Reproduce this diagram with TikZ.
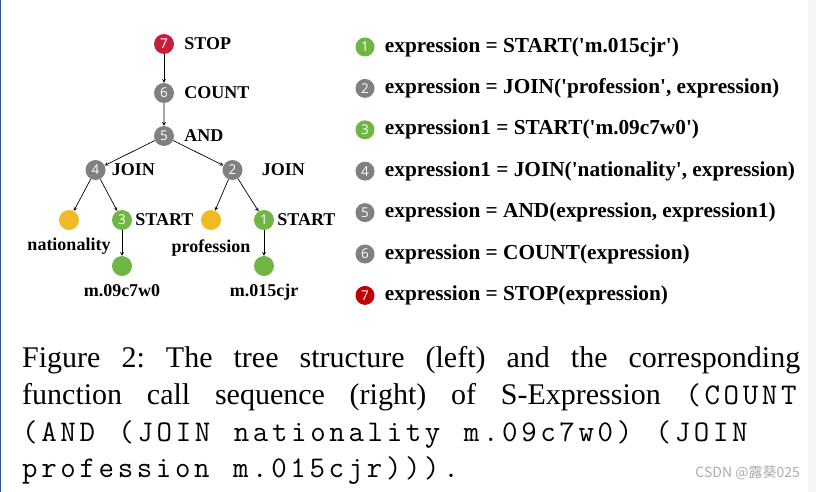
\documentclass[tikz,border=0pt]{standalone}
\usepackage{fontspec}
\setmainfont{Liberation Serif}
\setsansfont{Open Sans}
\setmonofont[Scale=1.0, LetterSpace=12.2, WordSpace=1.23]{Latin Modern Mono}
\newfontfamily\cjkfont{Noto Sans CJK SC}
\usepackage{xcolor}
\usepackage{tikz}
\usetikzlibrary{arrows, positioning}
\definecolor{stopred}{RGB}{196,32,60}
\definecolor{listred}{RGB}{192,0,0}
\definecolor{fungray}{RGB}{128,128,128}
\definecolor{entgreen}{RGB}{112,182,68}
\definecolor{relyellow}{RGB}{240,186,36}
\definecolor{edgeblue}{RGB}{47,84,150}
\newcommand{\tq}{\textquotesingle}
\tikzstyle{num} = [circle, inner sep=0pt, minimum size=20pt, text=white, font=\sffamily\fontsize{13.5}{13.5}\selectfont]
\tikzstyle{dot} = [circle, inner sep=0pt, minimum size=20pt]
\tikzstyle{tlabel} = [font=\bfseries\fontsize{18}{20}\selectfont, inner sep=2pt]
\tikzstyle{expr} = [font=\bfseries\fontsize{21.3}{24}\selectfont, inner sep=0pt]
\tikzstyle{arrow} = [->,>=stealth, line width=0.7pt]

\begin{document}
\begin{tikzpicture}[x=1pt, y=-1pt,
    level 1/.style={level distance=49pt},
    level 2/.style={level distance=43pt},
    level 3/.style={level distance=34pt, sibling distance=137pt},
    level 4/.style={level distance=50pt, sibling distance=53pt},
    level 5/.style={level distance=46pt},
    edge from parent/.style={draw, arrow},
    every label/.style={tlabel}
]
\fill[white] (0,0) rectangle (816,492);
\useasboundingbox (0,0) rectangle (816,492);
\fill[edgeblue] (0,0) rectangle (1.2,492);
\fill[gray!7] (808,0) rectangle (816,492);

% tree (left)
\node[num, fill=stopred, label={[label distance=8pt]right:STOP}] (stop) at (164,44) {7}
    child {node[num, fill=fungray, label={[label distance=8pt]right:COUNT}] (count) {6}
        child {node[num, fill=fungray, label={[label distance=8pt]right:AND}] (and) {5}
            child {node[num, fill=fungray, label={[label distance=4pt]right:JOIN}] (join1) {4}
                child {node[dot, fill=relyellow, label={[label distance=6pt]below:nationality}] (rel1) {}}
                child {node[num, fill=entgreen, label={[label distance=1pt]right:START}] (start1) {3}
                    child {node[dot, fill=entgreen, label={[label distance=6pt]below:m.09c7w0}] (ent1) {}}}
            }
            child {node[num, fill=fungray, label={[label distance=17pt]right:JOIN}] (join2) {2}
                child[xshift=5pt] {node[dot, fill=relyellow, label={[label distance=7pt]below:profession}] (rel2) {}}
                child[xshift=5pt] {node[num, fill=entgreen, label={[label distance=1pt]right:START}] (start2) {1}
                    child {node[dot, fill=entgreen, label={[label distance=6pt]below:m.015cjr}] (ent2) {}}}
            }
        }
    };

% call sequence (right)
\node[num, fill=entgreen, minimum size=19pt] (s1) at (365,47) {1};
\node[num, fill=fungray, minimum size=19pt, below=22pt of s1] (s2) {2};
\node[num, fill=entgreen, minimum size=19pt, below=22pt of s2] (s3) {3};
\node[num, fill=fungray, minimum size=19pt, below=22pt of s3] (s4) {4};
\node[num, fill=fungray, minimum size=19pt, below=22pt of s4] (s5) {5};
\node[num, fill=fungray, minimum size=19pt, below=22pt of s5] (s6) {6};
\node[num, fill=listred, minimum size=19pt, below=22pt of s6] (s7) {7};
\node[expr, right=10pt of s1] (e1) {expression = START(\tq m.015cjr\tq)};
\node[expr, right=10pt of s2] (e2) {expression = JOIN(\tq profession\tq, expression)};
\node[expr, right=10pt of s3] (e3) {expression1 = START(\tq m.09c7w0\tq)};
\node[expr, right=10pt of s4] (e4) {expression1 = JOIN(\tq nationality\tq, expression)};
\node[expr, right=10pt of s5] (e5) {expression = AND(expression, expression1)};
\node[expr, right=10pt of s6] (e6) {expression = COUNT(expression)};
\node[expr, right=10pt of s7] (e7) {expression = STOP(expression)};

% caption
\node[anchor=north west, text width=778pt, align=justify, inner sep=0pt,
      font=\fontsize{30}{36.7}\selectfont] (caption) at (22,346.5)
    {\frenchspacing\lineskiplimit=-50pt Figure 2: The tree structure (left) and the corresponding\linebreak
     function call sequence (right) of S-Expression \texttt{(COUNT}\linebreak
     \texttt{(AND (JOIN nationality m.09c7w0) (JOIN}\newline
     \texttt{profession m.015cjr))).}};
\node[anchor=east, text=gray!65, inner sep=0pt, font=\cjkfont\fontsize{14}{14}\selectfont] (mark) at (800,473) {CSDN @露葵025};
\end{tikzpicture}
\end{document}
